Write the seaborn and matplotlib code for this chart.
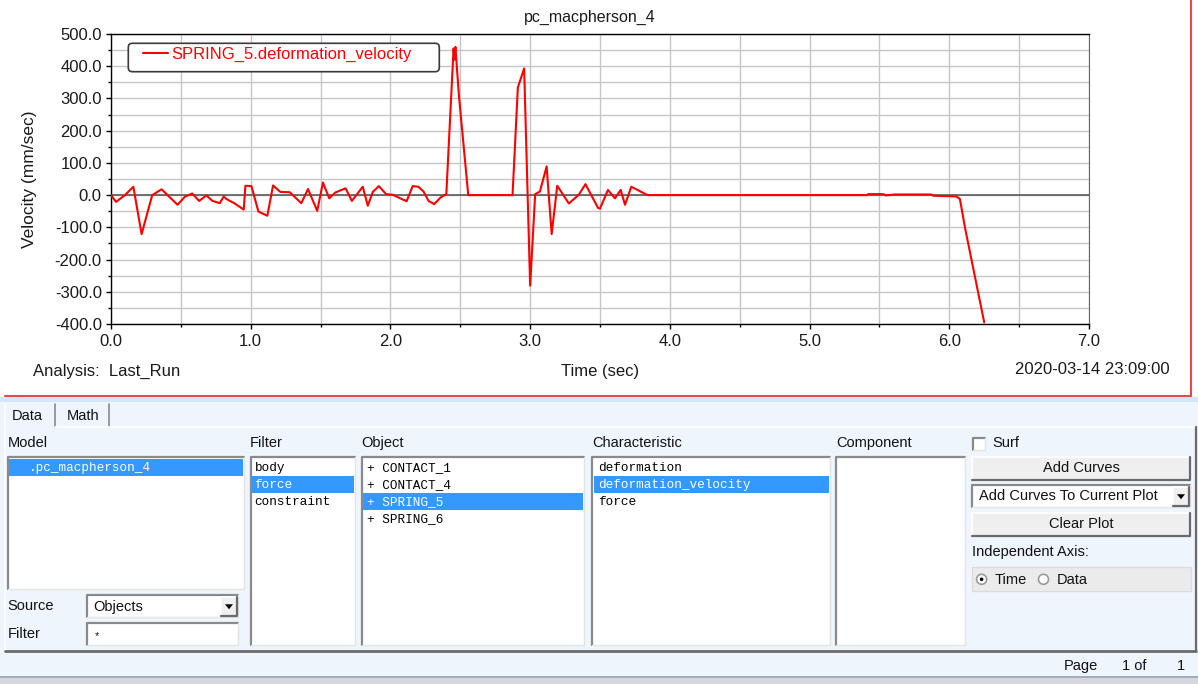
import pandas as pd
import seaborn as sns
import matplotlib.pyplot as plt
from matplotlib.patches import Rectangle, FancyBboxPatch, Circle, Polygon
from matplotlib.ticker import MultipleLocator, FuncFormatter

# curve: time (sec) and deformation velocity (mm/sec)
time_s = [0.0, 0.036, 0.10, 0.16, 0.219, 0.295, 0.31, 0.362, 0.414, 0.476,
          0.529, 0.581, 0.631, 0.683, 0.726, 0.779, 0.807, 0.826, 0.886, 0.95,
          0.962, 1.005, 1.055, 1.119, 1.16, 1.212, 1.279, 1.362, 1.41, 1.476,
          1.517, 1.562, 1.605, 1.679, 1.724, 1.802, 1.838, 1.874, 1.917, 1.969,
          2.017, 2.07, 2.116, 2.159, 2.20, 2.237, 2.273, 2.313, 2.36, 2.40,
          2.452, 2.458, 2.465, 2.49, 2.557, 2.874, 2.912, 2.957, 3.0, 3.036,
          3.07, 3.118, 3.154, 3.194, 3.277, 3.348, 3.396, 3.486, 3.50, 3.557,
          3.607, 3.648, 3.679, 3.724, 3.826, 3.845, 5.41, 5.42, 5.53, 5.545,
          5.61, 5.87, 5.886, 6.05, 6.076, 6.112, 6.25]
velocity = [0, -21, 0, 26, -121, 0, 4, 18, -4, -30,
            -5, 5, -18, -1, -18, -25, -4, -12, -26, -45,
            29, 28, -51, -64, 30, 10, 9, -25, 19, -49,
            39, -10, 8, 21, -18, 26, -33, 10, 28, 3,
            1, -10, -19, 28, 26, 11, -18, -28, -7, 3,
            455, 420, 460, 310, 0, 0, 334, 393, -281, 3,
            11, 89, -121, 29, -26, 1, 34, -40, -42, 16,
            -10, 16, -30, 26, 3, 0, 0, 3, 3, -1,
            2, 2, -2, -4, -12, -100, -395]

plot_title = 'pc_macpherson_4'
curve_label = 'SPRING_5.deformation_velocity'
x_label = 'Time (sec)'
y_label = 'Velocity (mm/sec)'
analysis_text = 'Analysis:  Last_Run'
stamp_text = '2020-03-14 23:09:00'

# the browser panel under the plot
tab_names = ['Data', 'Math']
model_items = ['.pc_macpherson_4']
filter_items = ['body', 'force', 'constraint']
object_items = ['+ CONTACT_1', '+ CONTACT_4', '+ SPRING_5', '+ SPRING_6']
char_items = ['deformation', 'deformation_velocity', 'force']

sns.set_style('white')
plt.rcParams['font.family'] = ['Liberation Sans', 'DejaVu Sans']
plt.rcParams['axes.unicode_minus'] = False

W, H = 1198, 684
PANEL = '#eef5fd'
HILITE = '#3399ff'
MONO = ['Liberation Mono', 'DejaVu Sans Mono']

fig = plt.figure(figsize=(W / 100, H / 100), dpi=100, facecolor=PANEL)

# background axes in pixel coordinates for the window chrome
bg = fig.add_axes([0, 0, 1, 1], zorder=0)
bg.set_xlim(0, W)
bg.set_ylim(H, 0)
bg.axis('off')


def rect(x0, y0, x1, y1, fc, ec='none', lw=1, z=1):
    bg.add_patch(Rectangle((x0, y0), x1 - x0, y1 - y0, fc=fc, ec=ec, lw=lw, zorder=z))


def sunken(x0, y0, x1, y1):
    rect(x0, y0, x1, y1, 'white')
    bg.plot([x0, x0, x1], [y1, y0, y0], color='#8a8a8a', lw=1.6, zorder=2)
    bg.plot([x1, x1, x0], [y0, y1, y1], color='#e4e4e4', lw=1, zorder=2)


def raised(x0, y0, x1, y1, fc='#efefef'):
    rect(x0, y0, x1, y1, fc)
    bg.plot([x0, x0, x1], [y1, y0, y0], color='white', lw=1.2, zorder=2)
    bg.plot([x1, x1, x0], [y0, y1, y1], color='#6a6a6a', lw=1.6, zorder=2)


def arrow_btn(x0, y0, x1, y1):
    raised(x0, y0, x1, y1, fc='#f0f0f0')
    cx, cy = (x0 + x1) / 2, (y0 + y1) / 2
    bg.add_patch(Polygon([[cx - 4, cy - 2], [cx + 4, cy - 2], [cx, cy + 3]],
                         closed=True, fc='black', ec='none', zorder=3))


def listbox(x0, y0, x1, y1, items, tx, selected=None):
    sunken(x0, y0, x1, y1)
    for i, item in enumerate(items):
        cy = 467.7 + 17 * i
        color = 'black'
        if i == selected:
            rect(x0 + 1.5, cy - 8.5, x1 - 1, cy + 8.3, HILITE, z=2)
            color = 'white'
        bg.text(tx, cy, item, family=MONO, fontsize=9.2, color=color,
                va='center', ha='left', zorder=3)


def label(x, y, s, ha='left', size=10.5):
    bg.text(x, y, s, fontsize=size, color='#111111', va='center', ha=ha, zorder=3)


# plot area with the red frame
rect(0, 0, W, 395.5, 'white', z=0.5)
bg.plot([1191, 1191], [0, 395.5], color='#e34b4b', lw=1.5, zorder=1)
bg.plot([5, 1191], [395.5, 395.5], color='#e34b4b', lw=1.5, zorder=1)
rect(0, 396.5, W, 402, '#d5e6f8')

# tabs
label(27.5, 416, tab_names[0], ha='center')
label(83, 416, tab_names[1], ha='center')
bg.plot([55, 55], [404, 427], color='#8a8a8a', lw=1.2)
bg.plot([109, 109], [404, 427], color='#8a8a8a', lw=1.2)
bg.plot([55, 1195], [427, 427], color='white', lw=1.2)
bg.plot([5, 5], [404, 650], color='white', lw=1.2)
bg.plot([1195.5, 1195.5], [427, 651], color='#6a6a6a', lw=1.6)
bg.plot([5, 1196], [650.5, 650.5], color='#6a6a6a', lw=2)

# column headers
label(7.7, 443, 'Model')
label(250, 443, 'Filter')
label(361.6, 443, 'Object')
label(592, 443, 'Characteristic')
label(836, 443, 'Component')

listbox(7.7, 456.7, 243.8, 589, model_items, 28.7, selected=0)
listbox(250.7, 456.7, 354.8, 645, filter_items, 254.5, selected=1)
listbox(361.6, 456.7, 584.4, 645, object_items, 366.6, selected=2)
listbox(592, 456.7, 830, 645, char_items, 598, selected=1)
sunken(836, 456.7, 965, 645)

# source / filter fields
label(7.7, 606.5, 'Source')
sunken(87.3, 595, 238, 617)
label(93, 606.5, 'Objects')
arrow_btn(221, 597, 237, 615.5)
label(7.7, 634, 'Filter')
sunken(87.3, 623, 238, 645)
label(95, 636, '*', size=8)

# right-hand controls
sunken(973, 438, 985, 450)
label(992, 443, 'Surf')
raised(972, 457, 1190, 480)
label(1081, 468.5, 'Add Curves', ha='center')
sunken(972, 485, 1190, 507)
label(979, 496.5, 'Add Curves To Current Plot')
arrow_btn(1173, 487, 1189, 505.5)
raised(972, 513, 1190, 536)
label(1081, 524.5, 'Clear Plot', ha='center')
label(972, 552, 'Independent Axis:')
rect(972, 567, 1191, 591, '#ebebeb', ec='#dcdcdc')
for cx, sel in [(981.6, True), (1043.5, False)]:
    bg.add_patch(Circle((cx, 579.3), 5, fc='white', ec='#9a9a9a', lw=1.2, zorder=3))
    if sel:
        bg.add_patch(Circle((cx, 579.3), 1.8, fc='black', ec='none', zorder=4))
label(994.7, 579.5, 'Time')
label(1057, 579.5, 'Data')

# status bar
label(1064, 666, 'Page')
label(1121.5, 666, '1 of')
label(1177, 666, '1')
bg.plot([0, W], [677, 677], color='#9a9ab0', lw=1.2)
rect(0, 678, W, H, '#d4d8dd')

# the chart itself
ax = fig.add_axes([111 / W, 1 - 324 / H, 978 / W, 290 / H], zorder=2)
ax.set_facecolor('white')
df = pd.DataFrame({x_label: time_s, y_label: velocity})
sns.lineplot(data=df, x=x_label, y=y_label, ax=ax, color='#ff0000', lw=1.5,
             estimator=None, sort=False, label=curve_label, zorder=3)

ax.set_xlim(0, 7)
ax.set_ylim(-400, 500)
ax.xaxis.set_major_locator(MultipleLocator(1))
ax.xaxis.set_minor_locator(MultipleLocator(0.5))
ax.yaxis.set_major_locator(MultipleLocator(100))
ax.yaxis.set_minor_locator(MultipleLocator(50))
fmt = FuncFormatter(lambda v, p: '0.0' if abs(v) < 1e-9 else f'{v:.1f}')
ax.xaxis.set_major_formatter(fmt)
ax.yaxis.set_major_formatter(fmt)
ax.grid(which='both', color='#c6c6c6', lw=1.0, zorder=0)
ax.axhline(0, color='#505050', lw=1.1, zorder=2)
ax.tick_params(which='both', direction='out', left=True, bottom=True,
               color='black', labelsize=12, labelcolor='#1a1a1a')
ax.tick_params(which='major', length=3.6, width=1)
ax.tick_params(which='minor', length=2.5, width=1)
ax.tick_params(axis='y', pad=3)
ax.tick_params(axis='x', pad=3.5)
for side in ['left', 'bottom', 'top']:
    ax.spines[side].set_color('black')
    ax.spines[side].set_linewidth(1)
ax.spines['right'].set_color('#666666')

ax.set_xlabel(x_label, fontsize=12, color='#1a1a1a')
ax.xaxis.set_label_coords(0.5, -0.137)
ax.set_ylabel(y_label, fontsize=12.5, color='#1a1a1a')
ax.yaxis.set_label_coords(-0.076, 0.5)
ax.set_title(plot_title, fontsize=11.5, color='#1a1a1a', x=0.49, pad=9)

# legend: rounded frame in pixel coords, entries from the library legend
ax.add_artist(FancyBboxPatch((128.3, 43.3), 311, 28.4,
                             boxstyle='round,pad=0,rounding_size=4',
                             fc='white', ec='#3a3a3a', lw=1.2,
                             transform=bg.transData, zorder=4.5))
ax.legend(loc='upper left', bbox_to_anchor=(0.033, 0.955), frameon=False,
          fontsize=12, handlelength=1.5, handletextpad=0.2, borderpad=0,
          borderaxespad=0, labelcolor='#ff0000')

bg.text(33, 371, analysis_text, fontsize=12, color='#1a1a1a', va='center', ha='left')
bg.text(1170, 370, stamp_text, fontsize=12, color='#1a1a1a', va='center', ha='right')

fig.savefig('out.png', dpi=100, facecolor=fig.get_facecolor())
